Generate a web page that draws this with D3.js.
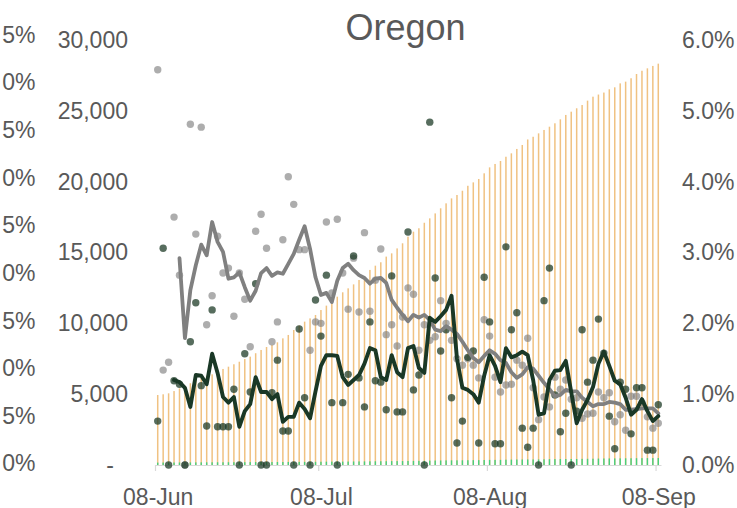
<!DOCTYPE html>
<html>
<head>
<meta charset="utf-8">
<script src="https://cdn.jsdelivr.net/npm/d3@7"></script>
<style>
  html, body { margin: 0; padding: 0; background: #ffffff; }
  svg { display: block; font-family: "Liberation Sans", Arial, Helvetica, sans-serif; }
</style>
</head>
<body>
<svg id="chart" width="737" height="508"></svg>
<script>
// Oregon, 8 Jun – 8 Sep 2020
const title = "Oregon";
const firstDay = new Date(2020, 5, 8);
const lastDay = new Date(2020, 8, 8);
const labelDates = [new Date(2020, 5, 8), new Date(2020, 6, 8), new Date(2020, 7, 8), new Date(2020, 8, 8)];

// Cumulative confirmed cases (left axis)
const cumulativeCases = [
  4940, 4990, 5060, 5220, 5410, 5580, 5770, 6000, 6160, 6300,
  6400, 6590, 6780, 6940, 7110, 7290, 7480, 7650, 7890, 8120,
  8330, 8470, 8660, 8940, 9180, 9530, 9840, 10120, 10350, 10590,
  10940, 11250, 11530, 11880, 12190, 12470, 12750, 13060, 13290, 13770,
  14070, 14310, 14710, 14940, 15290, 15650, 16120, 16470, 16710, 17100,
  17410, 17760, 18120, 18470, 18820, 19060, 19360, 19710, 19950, 20190,
  20590, 21010, 21250, 21460, 21760, 22000, 22310, 22590, 22980, 23170,
  23410, 23650, 23880, 24120, 24400, 24710, 24940, 25180, 25410, 25720,
  26000, 26150, 26290, 26520, 26660, 26940, 27060, 27300, 27600, 27830,
  28000, 28170, 28330
];

// Cumulative deaths (left axis)
const cumulativeDeaths = [
  169, 174, 174, 176, 178, 178, 181, 185, 187, 188,
  192, 193, 194, 195, 197, 197, 200, 202, 207, 207,
  207, 209, 212, 213, 214, 214, 218, 220, 220, 225,
  229, 235, 237, 237, 239, 242, 249, 252, 254, 259,
  262, 265, 267, 274, 276, 278, 287, 290, 294, 294,
  308, 316, 321, 327, 330, 331, 333, 338, 343, 344,
  353, 360, 361, 362, 373, 380, 388, 390, 391, 393,
  393, 402, 413, 417, 419, 422, 422, 425, 433, 438,
  444, 453, 460, 463, 464, 469, 474, 476, 481, 486,
  487, 488, 492
];

// Daily case growth, % (right axis)
const caseGrowth = [
  5.58, 1.34, 1.45, 3.50, 2.68, 0, 4.81, 3.26, 4.77, 1.98,
  2.39, 3.23, 2.71, 2.78, 2.10, 2.71, 2.34, 1.67, 3.30, 3.54,
  3.06, 1.74, 2.02, 3.18, 4.07, 3.68, 3.04, 3.04, 1.62, 2.02,
  2.00, 3.43, 2.43, 3.47, 2.71, 2.20, 2.92, 2.16, 3.28, 2.17,
  2.61, 3.05, 1.84, 1.98, 1.68, 2.09, 2.50, 2.41, 1.62, 1.98,
  1.76, 1.81, 2.32, 2.00, 1.76, 1.50, 1.41, 1.50, 1.41, 1.23,
  2.05, 1.82, 1.24, 1.03, 1.13, 1.14, 1.48, 1.41, 1.79, 1.09,
  0.64, 0.96, 0.82, 1.24, 1.07, 1.20, 0.93, 0.95, 0.66, 0.72,
  0.73, 1.03, 0.95, 1.02, 0.61, 0.71, 0.49, 0.97, 0.97, 0.88,
  0.68, 0.52, 0.59
];

// 5-day mean of case growth, %
const caseGrowthAvg = [
  null, null, null, null, 2.92, 1.79, 2.47, 2.82, 3.11, 2.96,
  3.43, 3.15, 3.01, 2.63, 2.65, 2.72, 2.51, 2.32, 2.46, 2.71,
  2.78, 2.67, 2.72, 2.70, 2.84, 2.98, 3.18, 3.37, 3.05, 2.65,
  2.40, 2.43, 2.30, 2.60, 2.78, 2.84, 2.75, 2.68, 2.64, 2.56,
  2.63, 2.64, 2.57, 2.33, 2.22, 2.12, 2.03, 2.12, 2.08, 2.12,
  2.05, 1.91, 1.89, 1.96, 1.91, 1.85, 1.74, 1.62, 1.51, 1.45,
  1.54, 1.62, 1.57, 1.48, 1.44, 1.31, 1.23, 1.28, 1.38, 1.36,
  1.26, 1.16, 1.07, 0.97, 0.99, 1.06, 1.04, 1.04, 0.95, 0.89,
  0.83, 0.86, 0.86, 0.89, 0.88, 0.86, 0.78, 0.78, 0.79, 0.80,
  0.80, 0.80, 0.73
];

// Daily death growth, % (right axis)
const deathGrowth = [
  0.62, 3.06, 0, 1.19, 1.14, 0, 1.74, 2.29, 1.12, 0.55,
  2.19, 0.54, 0.54, 0.54, 1.07, 0, 1.57, 1.03, 2.56, 0,
  0, 1.02, 1.48, 0.48, 0.48, 0, 1.92, 0.95, 0, 2.33,
  1.82, 2.68, 0.88, 0, 0.88, 1.28, 2.95, 1.23, 0.82, 2.02,
  1.19, 1.17, 0.78, 2.67, 0.75, 0.75, 3.29, 1.06, 1.27, 0,
  4.84, 2.64, 1.61, 1.91, 0.95, 0.31, 0.62, 1.52, 1.61, 0.31,
  2.65, 2.02, 0.30, 0.30, 3.08, 1.91, 2.15, 0.52, 0.25, 0.52,
  0, 2.32, 2.78, 0.99, 0.47, 0.73, 0, 0.76, 1.91, 1.17,
  1.48, 2.06, 1.58, 0.69, 0.23, 1.17, 1.07, 0.44, 1.09, 1.09,
  0.21, 0.21, 0.85
];

// 5-day mean of death growth, %
const deathGrowthAvg = [
  null, null, null, 1.20, 1.17, 1.09, 0.82, 1.27, 1.26, 1.14,
  1.57, 1.30, 0.96, 0.88, 0.96, 0.54, 0.76, 0.86, 1.24, 1.03,
  1.03, 0.93, 1.00, 0.61, 0.68, 0.68, 0.88, 0.79, 0.66, 1.04,
  1.40, 1.55, 1.55, 1.54, 1.24, 1.13, 1.20, 1.27, 1.43, 1.65,
  1.62, 1.24, 1.20, 1.55, 1.31, 1.24, 1.65, 1.68, 1.37, 1.30,
  2.08, 2.02, 2.10, 2.19, 2.39, 1.50, 1.09, 1.06, 1.00, 0.88,
  1.26, 1.55, 1.40, 1.17, 1.65, 1.52, 1.55, 1.60, 1.55, 1.20,
  0.71, 0.73, 1.20, 1.33, 1.34, 1.47, 1.03, 0.59, 0.78, 0.92,
  1.10, 1.43, 1.60, 1.40, 1.19, 1.14, 0.95, 0.71, 0.78, 0.93,
  0.76, 0.62, 0.69
];

// Tick values
const leftTicks = [0, 5000, 10000, 15000, 20000, 25000, 30000];
const rightTicks = [0, 1, 2, 3, 4, 5, 6];
const outerTicks = [0, 5, 10, 15, 20, 25, 30, 35, 40, 45];

// ---------------------------------------------------------------
const svg = d3.select("#chart");
const textColor = "#595959";
const fontSize = 23;

const days = d3.timeDay.range(firstDay, d3.timeDay.offset(lastDay, 1));

const x = d3.scaleTime()
  .domain([d3.timeHour.offset(firstDay, -12), d3.timeHour.offset(lastDay, 12)])
  .range([155, 661]);
const yCases = d3.scaleLinear().domain([0, 30000]).range([465, 40]);
const yRate = d3.scaleLinear().domain([0, 6]).range([465, 40]);
const yOuter = d3.scaleLinear().domain([0, 45]).range([463.5, 35]);

// the outermost percentage axis runs past the left edge of the frame
svg.append("defs").append("clipPath").attr("id", "frame-left")
  .append("rect").attr("x", 2.2).attr("y", 0).attr("width", 200).attr("height", 508);

// category axis line with tick marks between days
const tickMarks = labelDates.map(d => d3.timeHour.offset(d, -12));
const axisLine = svg.append("g")
  .attr("transform", "translate(0,465)")
  .call(d3.axisBottom(x).tickValues(tickMarks).tickSize(6).tickSizeOuter(0).tickFormat(""));
axisLine.selectAll("path, line").attr("stroke", "#d9d9d9").attr("stroke-width", 1.2);

// cumulative cases bars
svg.append("g").selectAll("rect")
  .data(cumulativeCases)
  .join("rect")
  .attr("x", (d, i) => x(days[i]) - 0.75)
  .attr("width", 1.5)
  .attr("y", d => yCases(d))
  .attr("height", d => yCases(0) - yCases(d))
  .attr("fill", "#f0c282");

// cumulative deaths bars
svg.append("g").selectAll("rect")
  .data(cumulativeDeaths)
  .join("rect")
  .attr("x", (d, i) => x(days[i]) - 0.7)
  .attr("width", 1.4)
  .attr("y", d => yCases(d))
  .attr("height", d => yCases(0) - yCases(d))
  .attr("fill", "#49cf7c");

// daily case growth dots
svg.append("g").selectAll("circle")
  .data(caseGrowth)
  .join("circle")
  .attr("cx", (d, i) => x(days[i]))
  .attr("cy", d => yRate(d))
  .attr("r", 3.7)
  .attr("fill", "#7f7f7f")
  .attr("fill-opacity", 0.64);

// daily death growth dots
svg.append("g").selectAll("circle")
  .data(deathGrowth)
  .join("circle")
  .attr("cx", (d, i) => x(days[i]))
  .attr("cy", d => yRate(d))
  .attr("r", 3.7)
  .attr("fill", "#1c3a26")
  .attr("fill-opacity", 0.74);

const rateLine = d3.line()
  .defined(d => d != null)
  .x((d, i) => x(days[i]))
  .y(d => yRate(d));

svg.append("path")
  .datum(caseGrowthAvg)
  .attr("d", rateLine)
  .attr("fill", "none")
  .attr("stroke", "#808080")
  .attr("stroke-width", 3.8)
  .attr("stroke-linejoin", "round")
  .attr("stroke-linecap", "round");

svg.append("path")
  .datum(deathGrowthAvg)
  .attr("d", rateLine)
  .attr("fill", "none")
  .attr("stroke", "#1a3826")
  .attr("stroke-width", 3.9)
  .attr("stroke-linejoin", "round")
  .attr("stroke-linecap", "round");

// axes
function styleAxis(g) {
  g.select(".domain").remove();
  g.selectAll("text")
    .attr("fill", textColor)
    .attr("font-size", fontSize)
    .attr("font-family", "Liberation Sans, Arial, sans-serif");
}

const leftAxis = svg.append("g")
  .attr("transform", "translate(128,0)")
  .call(d3.axisLeft(yCases).tickValues(leftTicks).tickSize(0).tickPadding(0)
    .tickFormat(d => d === 0 ? "-" : d3.format(",")(d)))
  .call(styleAxis);
leftAxis.selectAll(".tick").filter(d => d === 0).select("text").attr("dx", -14);

svg.append("g")
  .attr("transform", "translate(682,0)")
  .call(d3.axisRight(yRate).tickValues(rightTicks).tickSize(0).tickPadding(0)
    .tickFormat(d => d.toFixed(1) + "%"))
  .call(styleAxis);

svg.append("g")
  .attr("clip-path", "url(#frame-left)")
  .append("g")
  .attr("transform", "translate(35.5,0)")
  .call(d3.axisLeft(yOuter).tickValues(outerTicks).tickSize(0).tickPadding(0)
    .tickFormat(d => d + "%"))
  .call(styleAxis);

svg.append("g")
  .attr("transform", "translate(0,465.5)")
  .call(d3.axisBottom(x).tickValues(labelDates).tickSize(0).tickPadding(23)
    .tickFormat(d3.timeFormat("%d-%b")))
  .call(styleAxis);

// title
svg.append("text")
  .attr("x", 405.5)
  .attr("y", 40)
  .attr("text-anchor", "middle")
  .attr("fill", textColor)
  .attr("font-size", 36)
  .text(title);
</script>
</body>
</html>
